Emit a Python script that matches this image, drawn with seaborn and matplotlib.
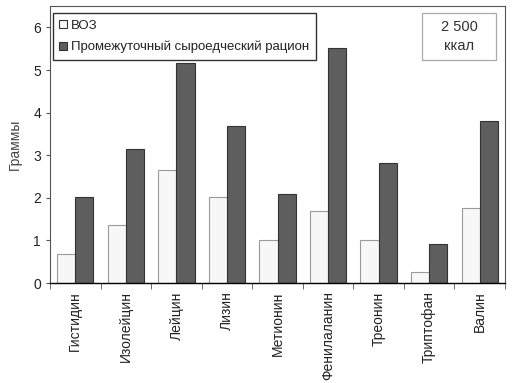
import numpy as np
import pandas as pd
import matplotlib
matplotlib.use('Agg')
import matplotlib.pyplot as plt
import seaborn as sns
from matplotlib.patches import Rectangle
from matplotlib.ticker import FixedLocator

# amino acids and grams per day
amino_acids = ['Гистидин', 'Изолейцин', 'Лейцин', 'Лизин', 'Метионин',
               'Фенилаланин', 'Треонин', 'Триптофан', 'Валин']
who_values = [0.68, 1.36, 2.65, 2.03, 1.02, 1.70, 1.02, 0.27, 1.77]
raw_values = [2.02, 3.15, 5.16, 3.68, 2.09, 5.52, 2.82, 0.92, 3.80]
series_names = ['ВОЗ', 'Промежуточный сыроедческий рацион']

df = pd.DataFrame({
    'Аминокислота': amino_acids * 2,
    'Граммы': who_values + raw_values,
    'Серия': [series_names[0]] * len(amino_acids) + [series_names[1]] * len(amino_acids),
})

sns.set_style('white')
plt.rcParams['font.family'] = ['Liberation Sans Narrow', 'Liberation Sans', 'DejaVu Sans']

fig = plt.figure(figsize=(5.18, 3.83), dpi=100)
ax = fig.add_axes([0.0965, 0.261, 0.8785, 0.723])

sns.barplot(data=df, x='Аминокислота', y='Граммы', hue='Серия',
            palette=['#f7f7f7', '#5e5e5e'], width=0.72, gap=0,
            edgecolor='#333333', linewidth=0.8, saturation=1, ax=ax)

# lighter edge on the white bars
for patch in ax.containers[0]:
    patch.set_edgecolor('#9a9a9a')

ax.set_xlim(-0.5, len(amino_acids) - 0.5)
ax.set_ylim(0, 6.5)
ax.set_yticks(range(0, 7))
ax.tick_params(axis='y', labelsize=10, length=3, direction='out', left=True,
               colors='#555555', labelcolor='#222222')
ax.set_xticks(range(len(amino_acids)))
ax.set_xticklabels(amino_acids, rotation=90, fontsize=10, color='#222222')
ax.tick_params(axis='x', which='major', length=0, pad=6)
ax.xaxis.set_minor_locator(FixedLocator(np.arange(-0.5, len(amino_acids), 1)))
ax.tick_params(axis='x', which='minor', length=4, bottom=True, color='#555555')
ax.set_xlabel('')
ax.set_ylabel('Граммы', fontsize=10, color='#444444', labelpad=8)

for side in ['top', 'right']:
    ax.spines[side].set_color('#555555')
    ax.spines[side].set_linewidth(0.8)
ax.spines['left'].set_color('#555555')
ax.spines['bottom'].set_color('black')
ax.spines['bottom'].set_linewidth(1.0)

leg = ax.legend(loc='upper left', bbox_to_anchor=(0.006, 0.975), fontsize=9.5,
                frameon=True, fancybox=False, edgecolor='black',
                handlelength=0.6, handleheight=0.6, handletextpad=0.3,
                labelspacing=0.7, borderpad=0.5, borderaxespad=0)
leg.get_frame().set_linewidth(1.0)
for txt in leg.get_texts():
    txt.set_color('#222222')

# energy box in the upper right corner
ax.add_patch(Rectangle((0.818, 0.805), 0.162, 0.17, transform=ax.transAxes,
                       facecolor='white', edgecolor='#aaaaaa', linewidth=0.9, zorder=5))
ax.text(0.899, 0.89, '2 500\nккал', transform=ax.transAxes, ha='center', va='center',
        fontsize=10.5, color='#333333', linespacing=1.5, zorder=6)

fig.savefig('out.png', dpi=100)
